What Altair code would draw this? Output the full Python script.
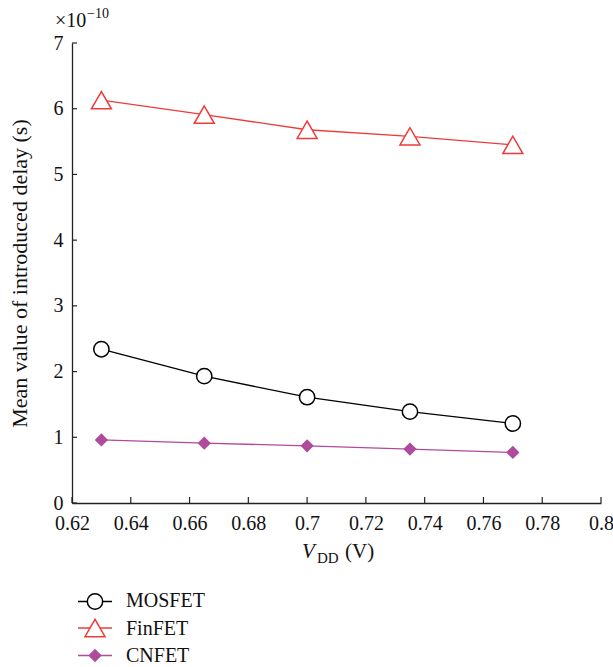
import altair as alt
import pandas as pd

# ---- data ----
vdd = [0.63, 0.665, 0.70, 0.735, 0.77]
mosfet = [2.34, 1.93, 1.61, 1.39, 1.21]
finfet = [6.13, 5.91, 5.68, 5.58, 5.45]
cnfet = [0.96, 0.91, 0.87, 0.82, 0.77]
series_names = ["MOSFET", "FinFET", "CNFET"]
x_tick_values = [0.62, 0.64, 0.66, 0.68, 0.70, 0.72, 0.74, 0.76, 0.78, 0.80]
y_tick_values = [0, 1, 2, 3, 4, 5, 6, 7]

FONT = "Liberation Serif"
W, H = 529, 460

styles = {
    "MOSFET": dict(color="#000000", shape="circle", size=235, fill="#ffffff"),
    "FinFET": dict(color="#f03a3a", shape="triangle-up", size=400, fill="#ffffff"),
    "CNFET": dict(color="#b04a9c", shape="diamond", size=125, fill="#b04a9c"),
}
values = {"MOSFET": mosfet, "FinFET": finfet, "CNFET": cnfet}

rows = []
for s in series_names:
    for xv, yv in zip(vdd, values[s]):
        rows.append({"series": s, "vdd": xv, "delay": yv})
df = pd.DataFrame(rows)

x_enc = alt.X(
    "vdd:Q",
    scale=alt.Scale(domain=[0.62, 0.8], nice=False, zero=False),
    axis=alt.Axis(values=x_tick_values, format=".2~f", ticks=False, grid=False,
                  title=None, labelPadding=10, labelFont=FONT, labelFontSize=20,
                  labelColor="#111", domainColor="#222", domainWidth=1.3,
                  labelFlush=False),
)
y_enc = alt.Y(
    "delay:Q",
    scale=alt.Scale(domain=[0, 7], nice=False, zero=True),
    axis=alt.Axis(values=y_tick_values, ticks=False, grid=False,
                  title="Mean value of introduced delay (s)", titleFont=FONT,
                  titleFontSize=22, titleFontWeight="normal", titleColor="#111",
                  titlePadding=22, labelPadding=9, labelFont=FONT,
                  labelFontSize=20, labelColor="#111", domainColor="#222",
                  domainWidth=1.3),
)

layers = []

# inward ticks drawn on the shared scales
ytick_df = pd.DataFrame({"delay": y_tick_values})
xtick_df = pd.DataFrame({"vdd": x_tick_values})
layers.append(
    alt.Chart(ytick_df).mark_rule(color="#222", strokeWidth=1.2).encode(
        y=y_enc, x=alt.value(0), x2=alt.value(5))
)
layers.append(
    alt.Chart(xtick_df).mark_rule(color="#222", strokeWidth=1.2).encode(
        x=x_enc, y=alt.value(H), y2=alt.value(H - 6))
)

for s in series_names:
    st = styles[s]
    sub = alt.Chart(df).transform_filter(alt.datum.series == s)
    layers.append(sub.mark_line(color=st["color"], strokeWidth=1.3).encode(x=x_enc, y=y_enc))
    layers.append(
        sub.mark_point(shape=st["shape"], size=st["size"], fill=st["fill"],
                       stroke=st["color"], strokeWidth=1.5, opacity=1,
                       fillOpacity=1).encode(x=x_enc, y=y_enc)
    )

one = pd.DataFrame({"k": [0]})

# x-axis title: V_DD (V)
layers.append(alt.Chart(one).mark_text(text="V", font=FONT, fontSize=21, fontStyle="italic",
                                       align="left", baseline="alphabetic", color="#111")
              .encode(x=alt.value(230), y=alt.value(515)))
layers.append(alt.Chart(one).mark_text(text="DD", font=FONT, fontSize=15,
                                       align="left", baseline="alphabetic", color="#111")
              .encode(x=alt.value(245), y=alt.value(520)))
layers.append(alt.Chart(one).mark_text(text="(V)", font=FONT, fontSize=21,
                                       align="left", baseline="alphabetic", color="#111")
              .encode(x=alt.value(273), y=alt.value(515)))

# exponent label x10^-10
layers.append(alt.Chart(one).mark_text(text="×10", font=FONT, fontSize=20,
                                       align="left", baseline="alphabetic", color="#111")
              .encode(x=alt.value(-17), y=alt.value(-16)))
layers.append(alt.Chart(one).mark_text(text="−10", font=FONT, fontSize=14,
                                       align="left", baseline="alphabetic", color="#111")
              .encode(x=alt.value(15), y=alt.value(-25)))

# custom legend (line + marker)
leg_sym_y = [558.5, 585, 612.5]
leg_txt_y = [564, 592, 619]
for i, s in enumerate(series_names):
    st = styles[s]
    layers.append(alt.Chart(one).mark_rule(color=st["color"], strokeWidth=1.3)
                  .encode(x=alt.value(6), x2=alt.value(40), y=alt.value(leg_sym_y[i])))
    layers.append(alt.Chart(one).mark_point(shape=st["shape"], size=st["size"], fill=st["fill"],
                                            stroke=st["color"], strokeWidth=1.5, opacity=1,
                                            fillOpacity=1)
                  .encode(x=alt.value(23), y=alt.value(leg_sym_y[i])))
    layers.append(alt.Chart(one).mark_text(text=s, font=FONT, fontSize=20, align="left",
                                           baseline="alphabetic", color="#111")
                  .encode(x=alt.value(54), y=alt.value(leg_txt_y[i])))

chart = alt.layer(*layers).properties(
    width=W, height=H,
    autosize=alt.AutoSizeParams(type="none"),
    padding={"left": 72, "top": 43, "right": 12, "bottom": 164},
    background="white",
).configure_view(stroke=None)

chart.save("out.html", embed_options={"renderer": "svg", "actions": False})
